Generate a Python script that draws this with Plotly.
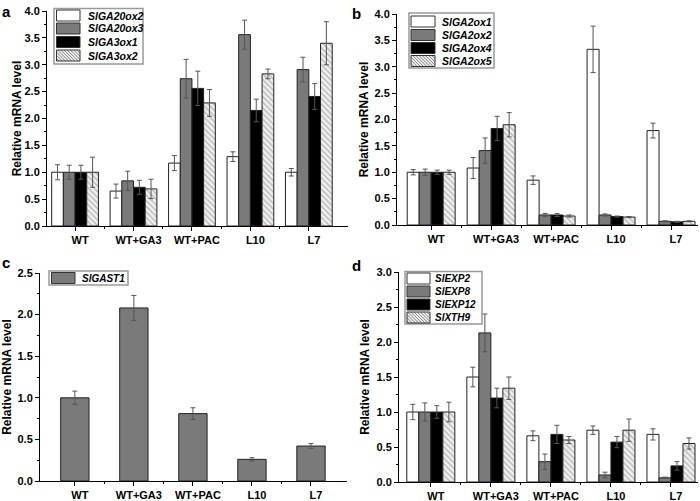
import plotly.graph_objects as go

categories = ["WT", "WT+GA3", "WT+PAC", "L10", "L7"]

# Panel a
a_names = ["SlGA20ox2", "SlGA20ox3", "SlGA3ox1", "SlGA3ox2"]
a_vals = [
    [1.0, 0.65, 1.17, 1.29, 1.0],
    [1.0, 0.84, 2.74, 3.56, 2.91],
    [1.0, 0.72, 2.56, 2.15, 2.41],
    [1.0, 0.69, 2.29, 2.83, 3.40],
]
a_errs = [
    [0.14, 0.13, 0.14, 0.09, 0.07],
    [0.13, 0.18, 0.36, 0.27, 0.23],
    [0.13, 0.13, 0.32, 0.21, 0.24],
    [0.28, 0.18, 0.25, 0.09, 0.40],
]

# Panel b
b_names = ["SlGA2ox1", "SlGA2ox2", "SlGA2ox4", "SlGA2ox5"]
b_vals = [
    [1.0, 1.08, 0.85, 3.33, 1.79],
    [1.0, 1.41, 0.19, 0.19, 0.07],
    [1.0, 1.83, 0.19, 0.16, 0.06],
    [1.0, 1.90, 0.17, 0.15, 0.07],
]
b_errs = [
    [0.05, 0.20, 0.08, 0.44, 0.14],
    [0.06, 0.24, 0.03, 0.02, 0.01],
    [0.04, 0.23, 0.03, 0.01, 0.01],
    [0.04, 0.23, 0.02, 0.01, 0.01],
]

# Panel c
c_names = ["SlGAST1"]
c_vals = [[1.0, 2.08, 0.81, 0.26, 0.42]]
c_errs = [[0.08, 0.15, 0.07, 0.02, 0.03]]

# Panel d
d_names = ["SlEXP2", "SlEXP8", "SlEXP12", "SlXTH9"]
d_vals = [
    [1.0, 1.50, 0.66, 0.74, 0.68],
    [1.0, 2.13, 0.29, 0.10, 0.06],
    [1.0, 1.20, 0.68, 0.57, 0.23],
    [1.0, 1.34, 0.60, 0.74, 0.55],
]
d_errs = [
    [0.11, 0.14, 0.07, 0.06, 0.08],
    [0.13, 0.27, 0.11, 0.04, 0.01],
    [0.09, 0.14, 0.13, 0.08, 0.06],
    [0.14, 0.16, 0.05, 0.16, 0.08],
]

W, H = 700, 501
FONT = "Arial, Liberation Sans, sans-serif"
HATCH_BG = "#f0f0f0"
HATCH_FG = "#808080"
styles = [
    dict(color="white"),
    dict(color="#7a7a7a"),
    dict(color="black"),
    dict(color=HATCH_BG, pattern=dict(shape="\\", fgcolor=HATCH_FG, bgcolor=HATCH_BG, size=4, solidity=0.35)),
]

fig = go.Figure()

panels = [
    (a_names, a_vals, a_errs, "x", "y", [0, 1, 2, 3]),
    (b_names, b_vals, b_errs, "x2", "y2", [0, 1, 2, 3]),
    (c_names, c_vals, c_errs, "x3", "y3", [1]),
    (d_names, d_vals, d_errs, "x4", "y4", [0, 1, 2, 3]),
]

xs = list(range(len(categories)))
for names, vals, errs, xa, ya, sidx in panels:
    for i, (n, v, e) in enumerate(zip(names, vals, errs)):
        st = styles[sidx[i]]
        marker = dict(color=st["color"], line=dict(color="#222", width=1))
        if "pattern" in st:
            marker["pattern"] = st["pattern"]
        kw = {}
        if len(names) == 1:
            kw["width"] = 0.48
        fig.add_trace(go.Bar(
            x=xs, y=v, name=n, xaxis=xa, yaxis=ya, showlegend=False,
            marker=marker,
            error_y=dict(type="data", array=e, visible=True, color="#555", thickness=1, width=2.5),
            **kw,
        ))

doms = {
    "1": dict(x=[47/W, 348/W], y=[(H-226)/H, (H-11)/H], xr=[-0.48, 4.67], yr=[0, 4.0], so=0),
    "2": dict(x=[397/W, 698/W], y=[(H-225)/H, (H-14)/H], xr=[-0.57, 4.45], yr=[0, 4.0], so=3),
    "3": dict(x=[40/W, 347/W], y=[(H-481)/H, (H-273)/H], xr=[-0.59, 4.61], yr=[0, 2.5], so=4),
    "4": dict(x=[399/W, 698/W], y=[(H-482)/H, (H-272)/H], xr=[-0.53, 4.45], yr=[0, 3.0], so=4),
}

tickfont = dict(family=FONT, size=11, color="black", weight="bold")
layout = {}
for k, d in doms.items():
    suf = "" if k == "1" else k
    layout["xaxis" + suf] = dict(
        domain=d["x"], anchor="y" + suf, range=d["xr"], automargin=False,
        tickmode="array", tickvals=xs, ticktext=categories,
        showline=True, linecolor="black", linewidth=1,
        ticks="outside", ticklen=4, tickcolor="black",
        minor=dict(tickmode="array", tickvals=[0.5, 1.5, 2.5, 3.5], ticks="outside", ticklen=2, tickcolor="black"),
        showgrid=False, zeroline=False, tickfont=tickfont, ticklabelshift=5,
    )
    layout["yaxis" + suf] = dict(
        domain=d["y"], anchor="x" + suf, range=d["yr"], automargin=False,
        dtick=0.5, tickformat=".1f",
        showline=True, linecolor="black", linewidth=1,
        ticks="outside", ticklen=4, tickcolor="black",
        minor=dict(dtick=0.25, ticks="outside", ticklen=2, tickcolor="black"),
        showgrid=False, zeroline=False, tickfont=tickfont,
        title=dict(text="Relative mRNA level", font=dict(family=FONT, size=12, color="black", weight="bold"), standoff=d["so"]),
    )

# ---- hand-drawn legends (box, swatches, labels), pixel positions ----
legends = [
    dict(box=(54, 8.5, 143, 64), sw=(56.5, 80), rows=[15.5, 28.5, 42, 55.5], tx=86, names=a_names, sidx=[0, 1, 2, 3], size=10.5),
    dict(box=(409, 13, 494, 68), sw=(411, 435), rows=[21.5, 35, 48, 61], tx=440, names=b_names, sidx=[0, 1, 2, 3], size=10.5),
    dict(box=(49, 271, 128, 285), sw=(51.5, 75), rows=[278], tx=80, names=c_names, sidx=[1], size=10),
    dict(box=(405, 271.5, 482, 324), sw=(407, 430), rows=[278.5, 291.5, 304.5, 317.5], tx=433, names=d_names, sidx=[0, 1, 2, 3], size=10),
]
SW_H = 11

def px(x):
    return x / W

def py(y):
    return 1 - y / H

shapes = []
annotations = []
for lg in legends:
    x0, y0, x1, y1 = lg["box"]
    shapes.append(dict(type="rect", xref="paper", yref="paper", x0=px(x0), x1=px(x1), y0=py(y0), y1=py(y1),
                       line=dict(color="#999", width=1.5), fillcolor="white", layer="above"))
    for r, n, si in zip(lg["rows"], lg["names"], lg["sidx"]):
        sx0, sx1 = lg["sw"]
        sy0, sy1 = r - SW_H / 2, r + SW_H / 2
        fill = styles[si]["color"]
        shapes.append(dict(type="rect", xref="paper", yref="paper", x0=px(sx0), x1=px(sx1), y0=py(sy0), y1=py(sy1),
                           line=dict(width=0), fillcolor=fill, layer="above"))
        if "pattern" in styles[si]:
            c = sy0 - sx1
            while c < sy1 - sx0:
                xa = max(sx0, sy0 - c)
                xb = min(sx1, sy1 - c)
                if xb > xa:
                    shapes.append(dict(type="line", xref="paper", yref="paper",
                                       x0=px(xa), y0=py(xa + c), x1=px(xb), y1=py(xb + c),
                                       line=dict(color=HATCH_FG, width=1), layer="above"))
                c += 3.2
        shapes.append(dict(type="rect", xref="paper", yref="paper", x0=px(sx0), x1=px(sx1), y0=py(sy0), y1=py(sy1),
                           line=dict(color="#333", width=1), fillcolor="rgba(0,0,0,0)", layer="above"))
        annotations.append(dict(text=n, x=px(lg["tx"]), y=py(r), xref="paper", yref="paper", showarrow=False,
                                xanchor="left", yanchor="middle",
                                font=dict(family=FONT, size=lg["size"], color="black", weight="bold", style="italic")))

letters = [("a", 6, 11), ("b", 356, 13), ("c", 6, 262), ("d", 356, 265)]
for t, lx, ly in letters:
    annotations.append(dict(text=t, x=px(lx), y=py(ly), xref="paper", yref="paper", showarrow=False,
                            xanchor="center", yanchor="middle",
                            font=dict(family=FONT, size=15, color="black", weight="bold")))

fig.update_layout(
    width=W, height=H, margin=dict(l=0, r=0, t=0, b=0),
    paper_bgcolor="white", plot_bgcolor="white",
    barmode="group", bargap=0.2, bargroupgap=0,
    showlegend=False, annotations=annotations, shapes=shapes,
    font=dict(family=FONT, color="black"),
    **layout,
)

fig.write_html("out.html", config={"displayModeBar": False},
               post_script="document.body.style.margin='0px';")
